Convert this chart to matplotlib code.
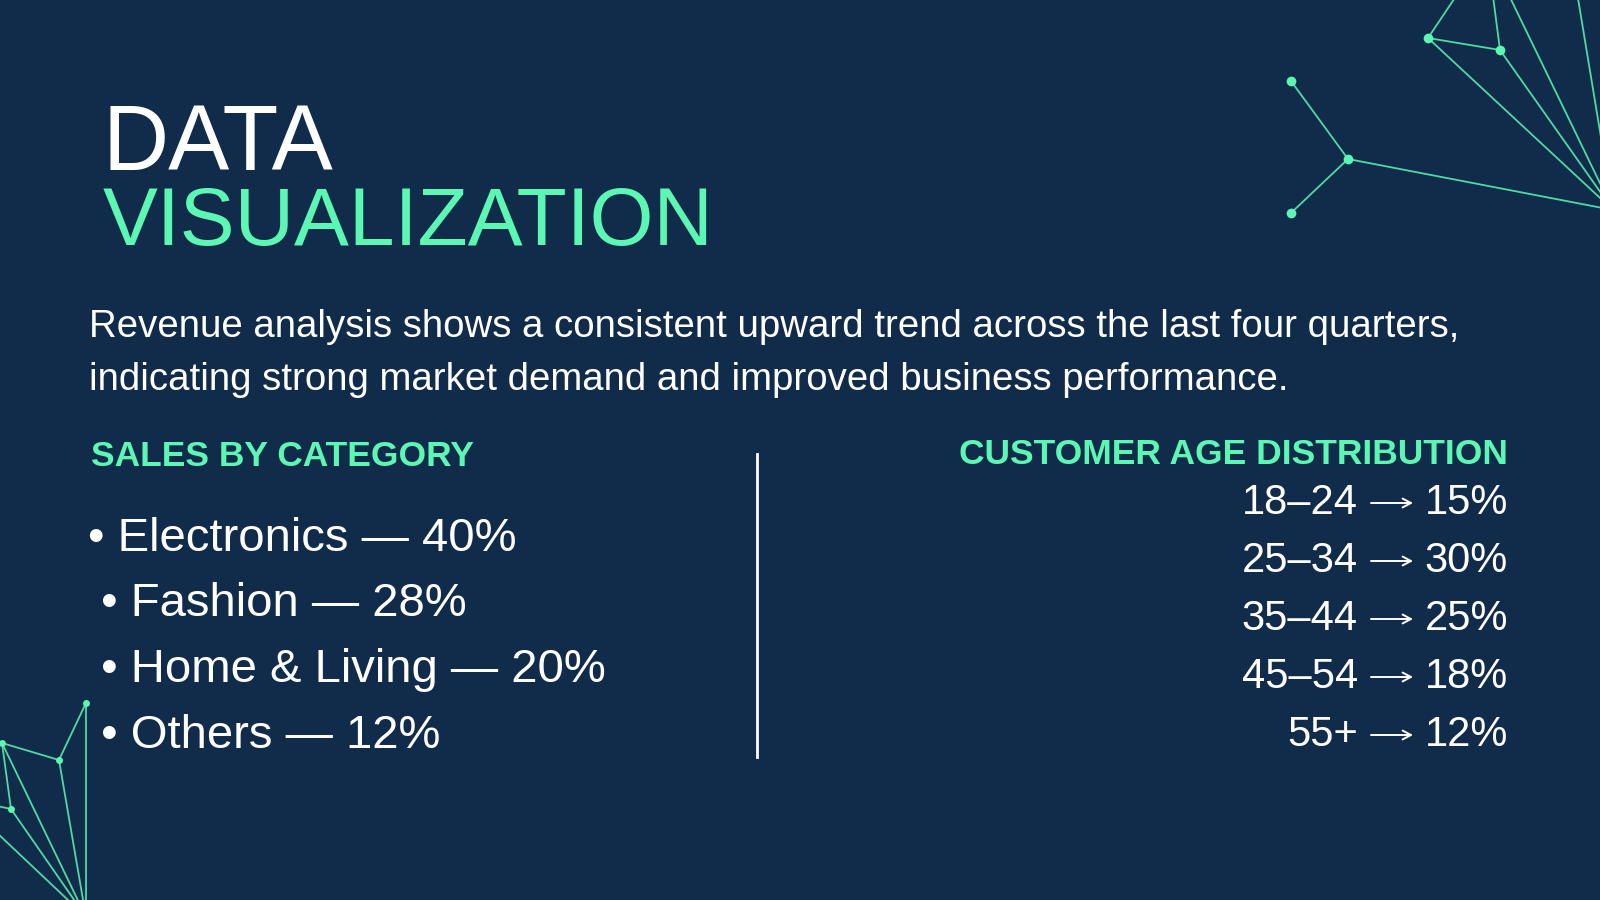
import matplotlib.pyplot as plt

# slide content
title_top = "DATA"
title_bottom = "VISUALIZATION"
summary_lines = ["Revenue analysis shows a consistent upward trend across the last four quarters,",
                 "indicating strong market demand and improved business performance."]

categories = ["Electronics", "Fashion", "Home & Living", "Others"]
category_share = [40, 28, 20, 12]

age_groups = ["18\u201324", "25\u201334", "35\u201344", "45\u201354", "55+"]
age_share = [15, 30, 25, 18, 12]

BG = "#112b4b"
GREEN = "#5cf7b2"
LINE = "#4fd9a3"
WHITE = "#ffffff"

plt.rcParams['font.family'] = ['Liberation Sans', 'DejaVu Sans']

fig = plt.figure(figsize=(16, 9), dpi=100, facecolor=BG)
ax = fig.add_axes([0, 0, 1, 1])
ax.set_xlim(0, 1600)
ax.set_ylim(900, 0)
ax.axis('off')
ax.set_facecolor(BG)

# decorative network, top right
tr_nodes = {'a': (1291, 81), 'b': (1348, 159), 'c': (1291, 213),
            'd': (1428, 38), 'e': (1500, 50), 'hub': (1613, 210),
            'p': (1487, -50), 'q': (1570, -50)}
tr_edges = [('a', 'b'), ('c', 'b'), ('b', 'hub'), ('d', 'hub'), ('e', 'hub'),
            ('d', 'e'), ('d', 'p'), ('e', 'p'), ('p', 'hub'), ('q', 'hub')]
tr_dots = ['a', 'b', 'c', 'd', 'e']

# decorative network, bottom left
bl_nodes = {'f': (86, 703), 'g': (59, 760), 'h': (2, 743), 'i': (11, 809),
            'hub': (86, 917), 'r': (-40, 798)}
bl_edges = [('f', 'hub'), ('f', 'g'), ('g', 'h'), ('g', 'hub'), ('h', 'i'),
            ('h', 'hub'), ('i', 'hub'), ('r', 'i'), ('r', 'hub')]
bl_dots = ['f', 'g', 'h', 'i']

for nodes, edges, dots, ms in [(tr_nodes, tr_edges, tr_dots, 7),
                                (bl_nodes, bl_edges, bl_dots, 5)]:
    for u, v in edges:
        ax.plot([nodes[u][0], nodes[v][0]], [nodes[u][1], nodes[v][1]],
                color=LINE, lw=1.3, solid_capstyle='round', zorder=1)
    ax.plot([nodes[k][0] for k in dots], [nodes[k][1] for k in dots], 'o',
            color=GREEN, ms=ms, mec='none', zorder=2)

# title
ax.text(103, 170, title_top, color=WHITE, fontsize=66, va='baseline', ha='left')
ax.text(103, 245, title_bottom, color=GREEN, fontsize=59.2, va='baseline', ha='left')

# summary paragraph
for i, line in enumerate(summary_lines):
    ax.text(89, 337 + i * 53, line, color=WHITE, fontsize=27.6,
            va='baseline', ha='left')

# left column
ax.text(91, 466, "SALES BY CATEGORY", color=GREEN, fontsize=25.5,
        fontweight='bold', va='baseline', ha='left')
for i, (cat, share) in enumerate(zip(categories, category_share)):
    lead = "" if i == 0 else " "
    ax.text(88, 551 + i * 65.5, f"{lead}\u2022 {cat} \u2014 {share}%", color=WHITE,
            fontsize=34, va='baseline', ha='left')

# divider
ax.plot([757, 757], [454, 757], color=WHITE, lw=2, zorder=1)

# right column
ax.text(1508, 464, "CUSTOMER AGE DISTRIBUTION", color=GREEN, fontsize=25.5,
        fontweight='bold', va='baseline', ha='right')
for i, (grp, share) in enumerate(zip(age_groups, age_share)):
    yb = 514 + i * 58
    ax.text(1358, yb, grp, color=WHITE, fontsize=30, va='baseline', ha='right')
    ax.annotate('', xy=(1413, yb - 11), xytext=(1371, yb - 11),
                arrowprops=dict(arrowstyle='->,head_length=0.6,head_width=0.32',
                                lw=1.4, color=WHITE, shrinkA=0, shrinkB=0))
    ax.text(1508, yb, f"{share}%", color=WHITE, fontsize=30,
            va='baseline', ha='right')

fig.savefig("out.png", dpi=100, facecolor=BG)
